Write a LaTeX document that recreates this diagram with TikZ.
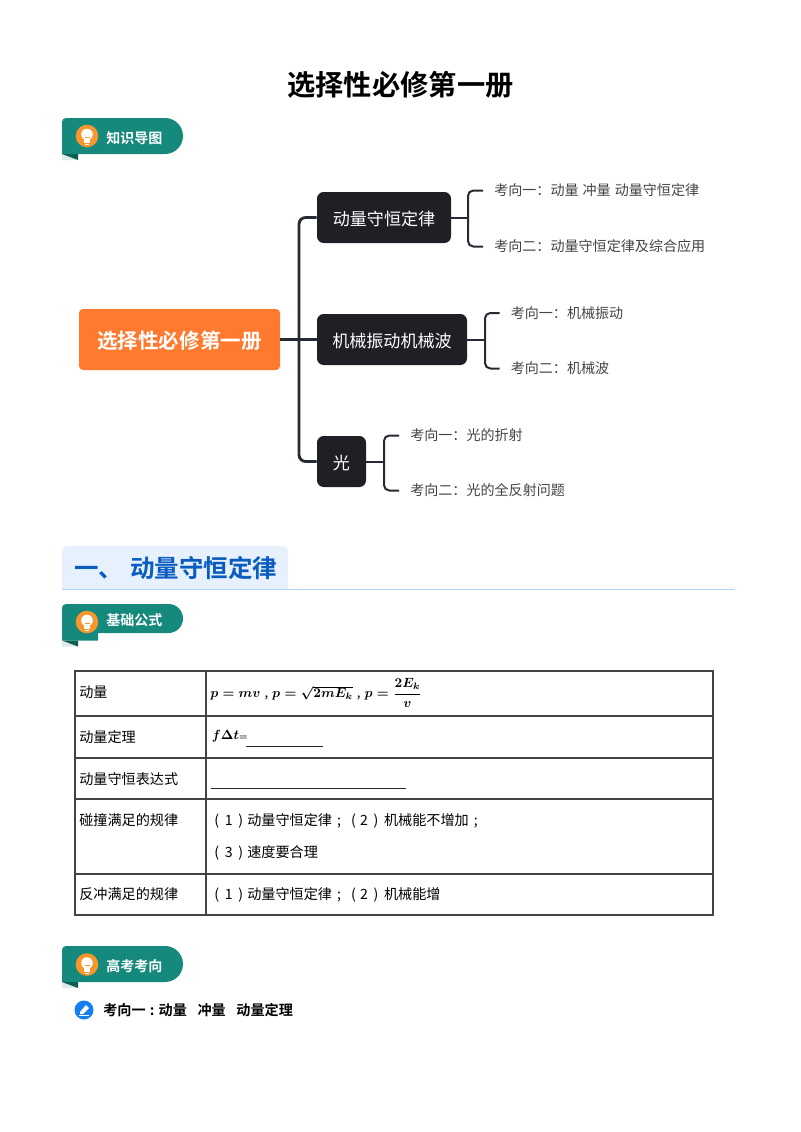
\documentclass[tikz,border=0pt]{standalone}
\usepackage{fontspec}
\usepackage{amsmath}
\setmainfont{Noto Sans CJK SC}
\newfontfamily\cjkb{Noto Sans CJK SC Bold}
\definecolor{badge}{HTML}{14897C}
\definecolor{badgedark}{HTML}{0B5F55}
\definecolor{foldlight}{HTML}{DCEBE8}
\definecolor{bulb}{HTML}{F7962D}
\definecolor{rootc}{HTML}{FF7A2F}
\definecolor{darkn}{HTML}{1F2026}
\definecolor{conn}{HTML}{262A33}
\definecolor{secbg}{HTML}{E6F1FD}
\definecolor{secline}{HTML}{B4D3FA}
\definecolor{secfg}{HTML}{0B5CC0}
\definecolor{greytx}{HTML}{444444}
\definecolor{rule}{HTML}{444444}
\definecolor{penblue}{HTML}{1480F0}
\newdimen\ppx \ppx=0.75pt
\newcommand{\pb}[2]{\makebox[#1\ppx][c]{#2}}
\newcommand{\ph}[1]{\hspace*{#1\ppx}}
\tikzset{
  rootbox/.style={fill=rootc,rounded corners=3pt,inner sep=0pt,text=white,text height=16pt,text depth=2pt,font=\fontsize{15.4pt}{18pt}\cjkb},
  darkbox/.style={fill=darkn,rounded corners=5pt,inner sep=0pt,text=white,text height=13pt,text depth=1pt,font=\fontsize{12.8pt}{15pt}\selectfont},
  leaf/.style={anchor=west,inner ysep=0pt,inner xsep=8.25pt,text=greytx,font=\fontsize{10.55pt}{13pt}\selectfont},
  trunk/.style={draw=conn,line width=2.1pt,rounded corners=5pt},
  brace/.style={draw=conn,line width=1.5pt,rounded corners=4pt},
  badgetxt/.style={anchor=west,inner sep=0pt,text=white,font=\fontsize{10.5pt}{13pt}\cjkb},
  celltxt/.style={anchor=west,inner sep=0pt,text=black,font=\fontsize{10.6pt}{13pt}\selectfont},
  tline/.style={draw=rule,line width=0.8pt},
  uline/.style={draw=black!85,line width=0.75pt},
}
\newcommand{\mybulb}[2]{%
  \fill[bulb] (#1,#2) circle (11.3);
  \fill[white] (#1,#2-1.5) circle (5.8);
  \fill[white] (#1-3,#2+2) rectangle (#1+3,#2+7);
  \fill[white] (#1-2,#2+8) rectangle (#1+2,#2+9);
  \draw[bulb,line width=0.7pt] (#1-2.5,#2+1) -- (#1+2.5,#2+1);
}
\newcommand{\mytail}[1]{%
  \fill[foldlight] (62,#1) -- (78,#1+6) -- (62,#1+6) -- cycle;
  \fill[badgedark] (62,#1) -- (78,#1) -- (78,#1+6) -- cycle;
}
\newcommand{\mybadge}[3]{%
  \fill[badge] (62,#1+4) arc[start angle=180,end angle=270,radius=4] -- (165,#1)
     arc[start angle=270,end angle=450,radius=18] -- (62,#2) -- cycle;
  \mytail{#2}
  \mybulb{87}{#3}
}
\begin{document}
\begin{tikzpicture}[x=0.75pt,y=-0.75pt]
\useasboundingbox (0,0) rectangle (800,1132);
\fill[white] (0,0) rectangle (800,1132);

\node[inner sep=0pt,font=\fontsize{21.2pt}{25pt}\cjkb] (title) at (400.5,85) {选择性必修第一册};

% badge 1
\mybadge{118}{154}{136}
\node[badgetxt] (b1) at (106,138) {知识导图};

% mind map
\node[minimum width=150.75pt,minimum height=45.75pt,rootbox] (root) at (179.5,339.5) {选择性必修第一册};
\node[darkbox,minimum width=100.5pt,minimum height=38.25pt] (n1) at (384,217.5) {动量守恒定律};
\node[darkbox,minimum width=112.5pt,minimum height=38.25pt] (n2) at (392,339.5) {机械振动机械波};
\node[darkbox,minimum width=36.75pt,minimum height=38.25pt] (n3) at (341.5,461.5) {光};

\coordinate (tx) at (299,0);
\draw[trunk] (n1.west) -- (n1.west -| tx) -- (n3.west -| tx) -- (n3.west);
\draw[draw=conn,line width=2.1pt] (root.east) -- (n2.west);

\node[leaf] (a1) at (483,190.5) {考向一：动量\ph{4}冲量\ph{4}动量守恒定律};
\node[leaf] (a2) at (483,246.5) {考向二：动量守恒定律及综合应用};
\node[leaf] (b1t) at (499.5,313) {考向一：机械振动};
\node[leaf] (b2t) at (499.5,368.5) {考向二：机械波};
\node[leaf] (c1t) at (399,435.5) {考向一：光的折射};
\node[leaf] (c2t) at (399,490.5) {考向二：光的全反射问题};

\coordinate (bxa) at (468,0);
\coordinate (bxb) at (485,0);
\coordinate (bxc) at (384,0);
\draw[brace] (a1.west) -- (a1.west -| bxa) -- (a2.west -| bxa) -- (a2.west);
\draw[conn,line width=1.5pt] (n1.east) -- (n1.east -| bxa);
\draw[brace] (b1t.west) -- (b1t.west -| bxb) -- (b2t.west -| bxb) -- (b2t.west);
\draw[conn,line width=1.5pt] (n2.east) -- (n2.east -| bxb);
\draw[brace] (c1t.west) -- (c1t.west -| bxc) -- (c2t.west -| bxc) -- (c2t.west);
\draw[conn,line width=1.5pt] (n3.east) -- (n3.east -| bxc);

% section heading
\fill[secbg] (62,589) -- (62,552) arc[start angle=180,end angle=270,radius=6] -- (282,546) arc[start angle=270,end angle=360,radius=6] -- (288,589) -- cycle;
\draw[secline,line width=1.4pt] (62,589.5) -- (735,589.5);
\node[anchor=west,inner sep=0pt,text=secfg,font=\fontsize{18.4pt}{22pt}\cjkb] (s1) at (74,568) {\vphantom{动}一、};
\node[anchor=west,inner sep=0pt,text=secfg,font=\fontsize{18.4pt}{22pt}\cjkb] (s2) at (130,568) {动量守恒定律};

% badge 2
\fill[badge] (62,608) arc[start angle=180,end angle=270,radius=4] -- (168.5,604)
  arc[start angle=270,end angle=450,radius=14.5] -- (98,633) -- (98,640.5) -- (62,640.5) -- cycle;
\mytail{640.5}
\mybulb{87}{622}
\node[badgetxt] (b2) at (106,620) {基础公式};

% table
\draw[tline] (75,671) rectangle (713,915);
\draw[tline] (206,671) -- (206,915);
\draw[tline] (75,716) -- (713,716);
\draw[tline] (75,758) -- (713,758);
\draw[tline] (75,799) -- (713,799);
\draw[tline] (75,874) -- (713,874);
\node[celltxt] (c1) at (79,692) {动量};
\node[celltxt] (c2) at (79,737) {动量定理};
\node[celltxt] (c3) at (79,779) {动量守恒表达式};
\node[celltxt] (c4) at (79,820.5) {碰撞满足的规律};
\node[celltxt] (c5) at (79,894.5) {反冲满足的规律};
\node[anchor=west,inner sep=0pt,text=black] (m1) at (210,693) {{\fontsize{10pt}{12pt}\selectfont\boldmath$p=mv$\ph{4},\ph{4}$p=\sqrt{2mE_k}$\ph{4},\ph{4}$p=\dfrac{2E_k}{v}$}};
\node[anchor=west,inner sep=0pt,text=black] (m2) at (211.5,736) {{\fontsize{10pt}{12pt}\selectfont\boldmath$f\Delta t$\fontsize{6.5pt}{8pt}\selectfont$=$}};
\draw[uline] (246,746) -- (323,746);
\draw[uline] (211,788) -- (406,788);
\node[celltxt] (d1) at (214,820.5) {\pb{5}{(}\pb{19}{1}\pb{5}{)}\ph{4}动量守恒定律\pb{14}{;}\ph{5}\pb{5}{(}\pb{16}{2}\pb{8}{)}\ph{4}机械能不增加\pb{14}{;}};
\node[celltxt] (d2) at (214,852.5) {\pb{5}{(}\pb{19}{3}\pb{5}{)}\ph{4}速度要合理};
\node[celltxt] (d3) at (214,894.5) {\pb{5}{(}\pb{19}{1}\pb{5}{)}\ph{4}动量守恒定律\pb{14}{;}\ph{5}\pb{5}{(}\pb{16}{2}\pb{8}{)}\ph{4}机械能增};

% badge 3
\mybadge{946}{982}{964.5}
\node[badgetxt] (b3) at (106,966) {高考考向};

% heading
\fill[penblue] (84,1010) circle (9.5);
\fill[white] (80,1012) -- (86,1005) -- (89,1008) -- (83,1014) -- (80,1014) -- cycle;
\draw[white,line width=0.8pt] (79,1015.5) -- (89,1015.5);
\node[anchor=west,inner sep=0pt,text=black,font=\fontsize{10.6pt}{13pt}\cjkb] (h) at (103,1010) {考向一\pb{13}{:}动量\hspace{0.75em}冲量\hspace{0.75em}动量定理};
\end{tikzpicture}
\end{document}
